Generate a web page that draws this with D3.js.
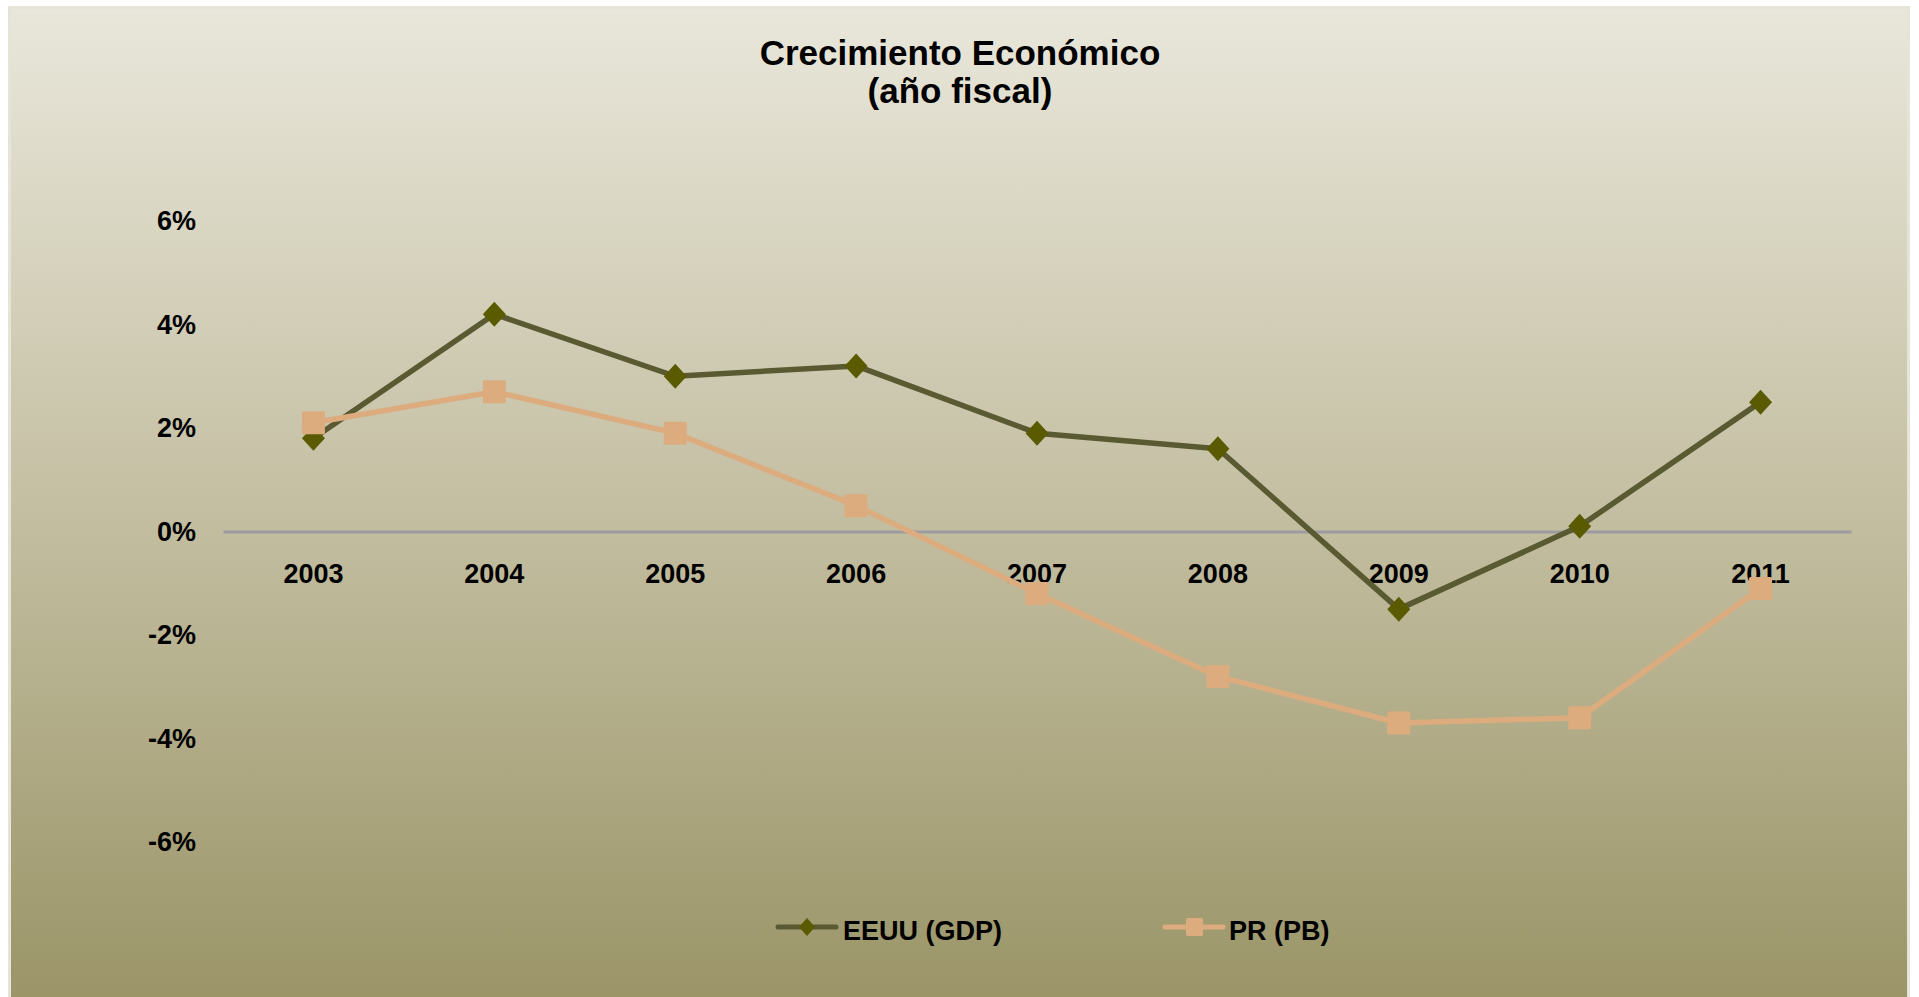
<!DOCTYPE html>
<html>
<head>
<meta charset="utf-8">
<script src="https://cdn.jsdelivr.net/npm/d3@7"></script>
<style>
html,body{margin:0;padding:0;background:#ffffff;overflow:hidden;}
svg{display:block;font-family:"Liberation Sans",Arial,sans-serif;}
</style>
</head>
<body>
<svg id="chart" width="1919" height="997"></svg>
<script>
const years = ["2003","2004","2005","2006","2007","2008","2009","2010","2011"];
const eeuu = [1.8, 4.2, 3.0, 3.2, 1.9, 1.6, -1.5, 0.1, 2.5];
const pr = [2.1, 2.7, 1.9, 0.5, -1.2, -2.8, -3.7, -3.6, -1.1];
const yTicks = [-6, -4, -2, 0, 2, 4, 6];
const seriesNames = ["EEUU (GDP)", "PR (PB)"];
const titleLines = ["Crecimiento Económico", "(año fiscal)"];

const svg = d3.select("#chart");
const W = 1919, H = 997;

const defs = svg.append("defs");
const grad = defs.append("linearGradient").attr("id","bg").attr("x1",0).attr("y1",0).attr("x2",0).attr("y2",1);
grad.append("stop").attr("offset","0%").attr("stop-color","#e9e7db");
grad.append("stop").attr("offset","50%").attr("stop-color","#c4bfa2");
grad.append("stop").attr("offset","100%").attr("stop-color","#9a9467");

svg.append("rect").attr("x",9.5).attr("y",7.5).attr("width",1899).attr("height",H)
  .attr("fill","url(#bg)").attr("stroke","#e6e4d8").attr("stroke-width",3);

const x = d3.scaleBand().domain(years).range([223, 1851]).paddingInner(0).paddingOuter(0);
const y = d3.scaleLinear().domain([-6, 6]).range([842, 221]);

// title
svg.append("text").attr("text-anchor","middle")
  .attr("font-weight","bold").attr("font-size",35).attr("fill","#000")
  .selectAll("tspan").data(titleLines).join("tspan")
  .attr("x",960).attr("y",(d,i)=>65 + i*38).text(d=>d);

// y axis labels
const yAxis = d3.axisLeft(y).tickValues(yTicks).tickSize(0).tickPadding(0)
  .tickFormat(d => d + "%");
const gy = svg.append("g").attr("transform","translate(196,0)").call(yAxis);
gy.select(".domain").remove();
gy.selectAll("text").attr("font-size",27).attr("font-weight","bold").attr("fill","#000")
  .attr("font-family","'Liberation Sans',Arial,sans-serif");

// x axis at zero
const xAxis = d3.axisBottom(x).tickSize(0).tickPadding(32);
const gx = svg.append("g").attr("transform",`translate(0,${y(0)})`).call(xAxis);
gx.select(".domain").attr("stroke","#9b9ba0").attr("stroke-width",3);
gx.selectAll("text").attr("font-size",27).attr("font-weight","bold").attr("fill","#000")
  .attr("font-family","'Liberation Sans',Arial,sans-serif");

const cx = d => x(d) + x.bandwidth()/2;
const line = d3.line().x((d,i)=>cx(years[i])).y(d=>y(d));

// EEUU
svg.append("path").datum(eeuu).attr("d", line).attr("fill","none")
  .attr("stroke","#5a5a32").attr("stroke-width",5.5).attr("stroke-linejoin","round");
svg.append("g").selectAll("path").data(eeuu).join("path")
  .attr("transform",(d,i)=>`translate(${cx(years[i])},${y(d)})`)
  .attr("d","M0,-12.5L11.5,0L0,12.5L-11.5,0Z").attr("fill","#5a5a00");

// PR
svg.append("path").datum(pr).attr("d", line).attr("fill","none")
  .attr("stroke","#dcac7f").attr("stroke-width",5.5).attr("stroke-linejoin","round");
svg.append("g").selectAll("rect").data(pr).join("rect")
  .attr("x",(d,i)=>cx(years[i])-11.5).attr("y",d=>y(d)-11.5)
  .attr("width",23).attr("height",23).attr("rx",1.5).attr("fill","#dcac7f");

// legend
const leg = svg.append("g");
const l1 = leg.append("g").attr("transform","translate(778,927)");
l1.append("line").attr("x1",0).attr("x2",58).attr("stroke","#5a5a32").attr("stroke-width",5).attr("stroke-linecap","round");
l1.append("path").attr("transform","translate(29,0)").attr("d","M0,-9L8,0L0,9L-8,0Z").attr("fill","#5a5a00");
l1.append("text").attr("x",65).attr("y",13).attr("font-size",27).attr("font-weight","bold").text(seriesNames[0]);

const l2 = leg.append("g").attr("transform","translate(1165,927)");
l2.append("line").attr("x1",0).attr("x2",58).attr("stroke","#dcac7f").attr("stroke-width",5).attr("stroke-linecap","round");
l2.append("rect").attr("x",21).attr("y",-9).attr("width",17).attr("height",18).attr("rx",1.5).attr("fill","#dcac7f");
l2.append("text").attr("x",64).attr("y",13).attr("font-size",27).attr("font-weight","bold").text(seriesNames[1]);
</script>
</body>
</html>
